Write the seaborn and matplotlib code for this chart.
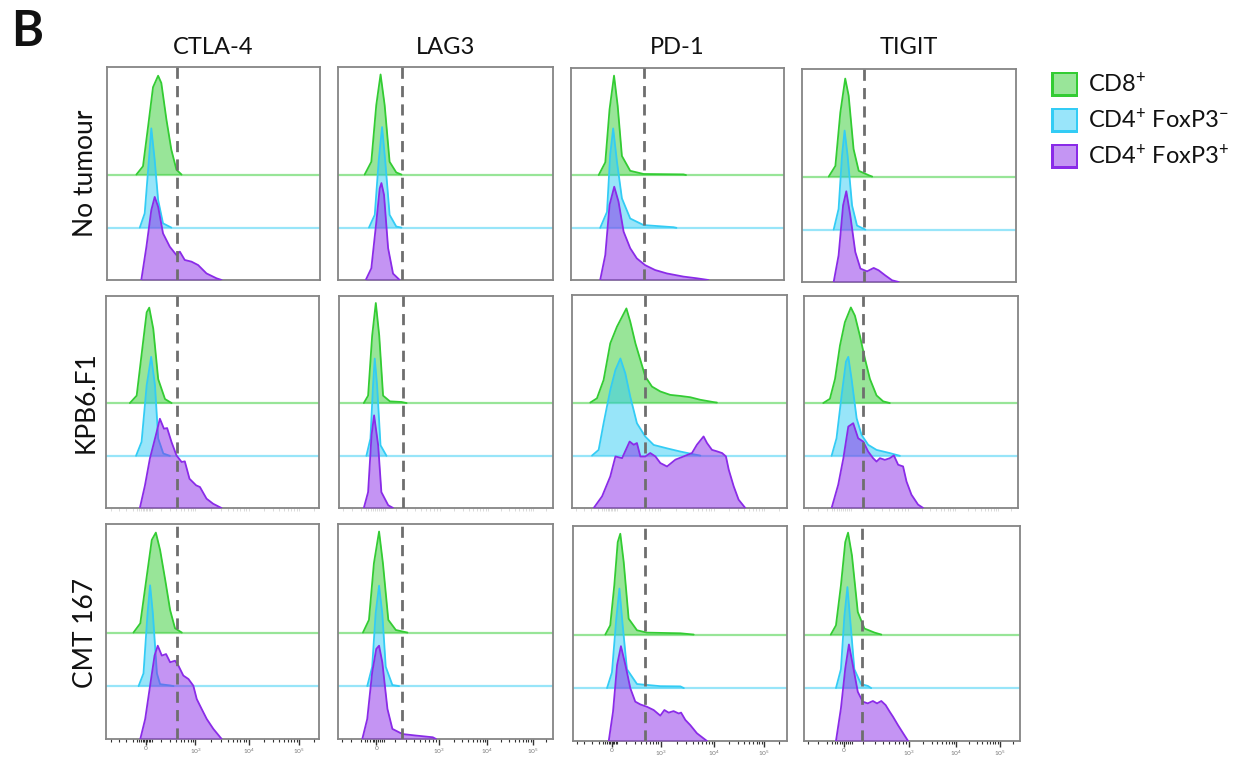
import numpy as np
import matplotlib
matplotlib.use("Agg")
import matplotlib.pyplot as plt
from matplotlib.patches import Rectangle
import seaborn as sns
import pandas as pd

# ---------------- data (x in FlowJo display channels 0-1000, h = normalised count, % of panel height)
MARKERS = ["CTLA-4", "LAG3", "PD-1", "TIGIT"]
CONDITIONS = ["No tumour", "KPB6.F1", "CMT 167"]
POPULATIONS = ["CD8$^{+}$", "CD4$^{+}$ FoxP3$^{-}$", "CD4$^{+}$ FoxP3$^{+}$"]

# axis tick channels for 0, 10^3, 10^4, 10^5 per marker (logicle display)
TICKS_CTLA4 = [187, 420, 670, 907]
TICKS_LAG3 = [178, 470, 695, 906]
TICKS_PD1 = [180, 410, 660, 894]
TICKS_TIGIT = [184, 486, 705, 906]
TICK_LABELS = ["0", "$10^3$", "$10^4$", "$10^5$"]

# positive gate (dashed line) per condition, per marker
GATE_NT = [329, 299, 344, 288]
GATE_KPB = [334, 297, 338, 277]
GATE_CMT = [335, 297, 335, 269]

# ---- No tumour
NT_CTLA4_CD8_X = [138, 169, 193, 216, 240, 255, 279, 302, 326, 350]
NT_CTLA4_CD8_H = [0, 3.9, 22.6, 41, 46.4, 43, 25.8, 11.7, 2.3, 0]
NT_CTLA4_CONV_X = [154, 177, 193, 208, 224, 240, 263, 302]
NT_CTLA4_CONV_H = [0, 6.7, 27, 46.6, 31.7, 13, 2, 0]
NT_CTLA4_TREG_X = [161, 185, 208, 224, 240, 263, 295, 326, 342, 365, 397, 428, 467, 514, 538]
NT_CTLA4_TREG_H = [0, 15.6, 32.8, 39, 34.4, 21.9, 15.6, 11.7, 13.3, 9.4, 8.6, 7, 3.1, 0.8, 0]

NT_LAG3_CD8_X = [124, 155, 178, 198, 217, 240, 271, 295]
NT_LAG3_CD8_H = [0, 6, 32.6, 47, 32.6, 6, 1, 0]
NT_LAG3_CONV_X = [144, 171, 189, 205, 220, 240, 271, 295]
NT_LAG3_CONV_H = [0, 6, 31, 47.2, 31, 6, 0.5, 0]
NT_LAG3_TREG_X = [129, 155, 178, 194, 202, 214, 233, 256, 287]
NT_LAG3_TREG_H = [0, 5.5, 27, 43, 45.5, 40, 15, 3, 0]

NT_PD1_CD8_X = [130, 161, 181, 202, 219, 239, 278, 341, 528, 540]
NT_PD1_CD8_H = [0, 6, 31, 46.9, 32.8, 9, 2, 0.5, 0.3, 0]
NT_PD1_CONV_X = [137, 169, 184, 198, 216, 239, 278, 341, 481, 495]
NT_PD1_CONV_H = [0, 7.5, 34.6, 46.9, 31, 13.9, 4.4, 1.3, 0.3, 0]
NT_PD1_TREG_X = [137, 161, 181, 203, 223, 247, 278, 309, 348, 395, 450, 528, 591, 645]
NT_PD1_TREG_H = [0, 11.8, 35.4, 44, 37, 22.8, 15, 10.2, 7, 4.7, 3.1, 1.6, 0.8, 0]

NT_TIGIT_CD8_X = [125, 156, 179, 202, 218, 241, 265, 312, 328]
NT_TIGIT_CD8_H = [0, 5, 30, 46, 38, 12.9, 2.7, 0.6, 0]
NT_TIGIT_CONV_X = [148, 171, 187, 199, 213, 234, 257, 296]
NT_TIGIT_CONV_H = [0, 9.7, 34.8, 46.5, 34.8, 11.3, 1.9, 0]
NT_TIGIT_TREG_X = [148, 171, 192, 207, 226, 249, 273, 304, 335, 358, 389, 421, 452]
NT_TIGIT_TREG_H = [0, 12.5, 36, 42.6, 31, 14.1, 6.3, 5, 6.6, 5.5, 3.1, 0.8, 0]

# ---- KPB6.F1
KPB_CTLA4_CD8_X = [112, 144, 172, 191, 203, 222, 245, 277, 308]
KPB_CTLA4_CD8_H = [0, 3.5, 27, 42.8, 45, 35, 11.3, 1.9, 0]
KPB_CTLA4_CONV_X = [141, 167, 191, 212, 230, 245, 269, 300]
KPB_CTLA4_CONV_H = [0, 6.6, 33.3, 46.7, 33.3, 8.2, 1.1, 0]
KPB_CTLA4_TREG_X = [159, 183, 206, 234, 253, 272, 287, 308, 331, 355, 370, 392, 423, 441, 472, 503, 542]
KPB_CTLA4_TREG_H = [0, 10.7, 23.3, 34.3, 42.1, 37.4, 37.7, 31, 24.8, 21.7, 22, 13.8, 10.7, 9.9, 4.4, 2, 0]

KPB_LAG3_CD8_X = [116, 136, 155, 172, 188, 206, 238, 292, 316]
KPB_LAG3_CD8_H = [0, 3.5, 31.8, 47.2, 31.8, 3.5, 0.8, 0.5, 0]
KPB_LAG3_CONV_X = [128, 147, 159, 167, 178, 194, 222]
KPB_LAG3_CONV_H = [0, 8.2, 33.3, 45.9, 33.3, 5, 0]
KPB_LAG3_TREG_X = [116, 136, 152, 164, 183, 198, 230, 253]
KPB_LAG3_TREG_H = [0, 7.5, 34.3, 43.7, 29.6, 7.5, 1.3, 0]

KPB_PD1_CD8_X = [85, 116, 147, 178, 209, 233, 253, 271, 295, 318, 341, 372, 411, 457, 504, 550, 597, 659, 674]
KPB_PD1_CD8_H = [0, 2, 10.6, 27.8, 35.6, 40.3, 44.2, 38, 27.8, 20, 12.2, 7.5, 5.2, 3.6, 3.1, 2.5, 1.3, 0.2, 0]
KPB_PD1_CONV_X = [93, 124, 147, 178, 202, 225, 248, 271, 302, 341, 380, 442, 504, 566, 597]
KPB_PD1_CONV_H = [0, 2.7, 15.2, 30.8, 40.2, 45.6, 38.6, 27.7, 15.2, 8.9, 5, 3.4, 1.9, 0.6, 0]
KPB_PD1_TREG_X = [101, 140, 178, 202, 233, 268, 287, 302, 318, 341, 364, 388, 411, 442, 481, 519,
                  558, 581, 612, 628, 651, 674, 698, 716, 729, 752, 775, 806]
KPB_PD1_TREG_H = [0, 5.5, 14.8, 24.2, 23.4, 31.2, 29.7, 30.5, 24.2, 24.2, 25.8, 24.2, 21.1, 19.5, 22.7, 24.2,
                  25.8, 29.7, 33.6, 30.5, 27.3, 26.6, 25.8, 24.2, 18, 10.2, 3.9, 0]

KPB_TIGIT_CD8_X = [90, 121, 145, 168, 191, 219, 238, 261, 285, 308, 339, 370, 401]
KPB_TIGIT_CD8_H = [0, 2, 11.4, 27.1, 38.1, 45.1, 41.2, 31.8, 20.8, 11.4, 3.6, 0.8, 0]
KPB_TIGIT_CONV_X = [129, 152, 176, 196, 207, 222, 246, 269, 300, 339, 401, 448]
KPB_TIGIT_CONV_H = [0, 8.3, 28.7, 44.4, 46.7, 36.5, 17.7, 9.9, 5.2, 2.8, 1.3, 0]
KPB_TIGIT_TREG_X = [129, 160, 184, 207, 230, 253, 277, 300, 323, 339, 355, 378, 401, 420, 440, 463, 479, 502, 533, 557]
KPB_TIGIT_TREG_H = [0, 11, 23.5, 38.4, 40, 32.9, 31.3, 26.6, 23.5, 21.9, 23.5, 22.7, 23.5, 24.8, 20.4, 19.6, 12.5, 6.3, 1.6, 0]

# ---- CMT 167
CMT_CTLA4_CD8_X = [129, 161, 189, 215, 234, 254, 278, 301, 324, 356]
CMT_CTLA4_CD8_H = [0, 4.3, 24.5, 43.1, 46.5, 38.4, 24.5, 10.5, 2, 0]
CMT_CTLA4_CONV_X = [153, 176, 195, 207, 220, 239, 254, 301, 317]
CMT_CTLA4_CONV_H = [0, 5.9, 33.8, 46.9, 33.8, 5.9, 0.9, 0.3, 0]
CMT_CTLA4_TREG_X = [161, 184, 207, 228, 243, 262, 282, 301, 324, 340, 363, 387, 410, 426, 449, 473, 504, 543]
CMT_CTLA4_TREG_H = [0, 9.3, 24.8, 38.8, 43.4, 38.8, 39.5, 35.7, 36.4, 34.1, 29.5, 27.9, 24.8, 18.6, 14, 9.3, 4.7, 0]

CMT_LAG3_CD8_X = [116, 144, 167, 191, 209, 234, 269, 300, 323]
CMT_LAG3_CD8_H = [0, 5.9, 32.2, 47, 32.2, 5.9, 1.2, 0.5, 0]
CMT_LAG3_CONV_X = [136, 159, 175, 191, 206, 222, 253, 284]
CMT_LAG3_CONV_H = [0, 9, 33.8, 46.7, 33.8, 9, 0.5, 0]
CMT_LAG3_TREG_X = [113, 136, 159, 178, 191, 206, 230, 253, 300, 363, 441, 456]
CMT_LAG3_TREG_H = [0, 9.3, 31, 41.9, 43.4, 35.7, 14, 4.7, 2.3, 1.6, 0.8, 0]

CMT_PD1_CD8_X = [151, 174, 193, 209, 221, 237, 260, 299, 346, 502, 564]
CMT_PD1_CD8_H = [0, 4.3, 22.9, 43, 46.9, 33.7, 7.4, 2, 0.9, 0.6, 0]
CMT_PD1_CONV_X = [159, 182, 202, 217, 231, 252, 299, 408, 502, 518]
CMT_PD1_CONV_H = [0, 7.3, 32, 46.3, 30.5, 8.8, 1.9, 0.9, 0.8, 0]
CMT_PD1_TREG_X = [167, 187, 206, 224, 245, 268, 291, 315, 346, 377, 408, 427, 447, 470, 494, 505, 525, 548, 579, 626]
CMT_PD1_TREG_H = [0, 13.6, 35.3, 44.1, 35.3, 24.5, 18.3, 17, 15.9, 14.4, 11.8, 14.4, 13.2, 13.9, 12.8, 13.2, 9.8, 7.4, 3.6, 0]

CMT_TIGIT_CD8_X = [124, 148, 171, 191, 204, 222, 249, 280, 327, 358]
CMT_TIGIT_CD8_H = [0, 4.3, 22.9, 43, 47.4, 36.8, 10.5, 2.8, 0.9, 0]
CMT_TIGIT_CONV_X = [148, 171, 187, 201, 215, 233, 264, 296, 311]
CMT_TIGIT_CONV_H = [0, 8.8, 33.5, 47, 30.5, 8.8, 1.9, 1, 0]
CMT_TIGIT_TREG_X = [148, 171, 191, 208, 226, 249, 272, 295, 319, 338, 358, 378, 397, 412, 435, 459, 482]
CMT_TIGIT_TREG_H = [0, 15.2, 33.7, 44.9, 35.3, 22.9, 18.3, 17.5, 18.6, 17.5, 18.6, 16.7, 13.6, 11.3, 7.4, 3.6, 0]

# ---------------- assemble
g = globals()
ROWKEYS = ["NT", "KPB", "CMT"]
COLKEYS = ["CTLA4", "LAG3", "PD1", "TIGIT"]
POPKEYS = ["CD8", "CONV", "TREG"]
GATES = [GATE_NT, GATE_KPB, GATE_CMT]
TICKS = [TICKS_CTLA4, TICKS_LAG3, TICKS_PD1, TICKS_TIGIT]

records = []
for r, rk in enumerate(ROWKEYS):
    for c, ck in enumerate(COLKEYS):
        for p, pk in enumerate(POPKEYS):
            xs = g[f"{rk}_{ck}_{pk}_X"]
            hs = g[f"{rk}_{ck}_{pk}_H"]
            for x, h in zip(xs, hs):
                records.append(dict(cond=CONDITIONS[r], marker=MARKERS[c], pop=pk, x=x, h=h))
df = pd.DataFrame(records)

# ---------------- style
sns.set_theme(style="white")
plt.rcParams["font.family"] = ["Lato", "DejaVu Sans"]
plt.rcParams["mathtext.fontset"] = "custom"
plt.rcParams["mathtext.rm"] = "Lato"
plt.rcParams["mathtext.it"] = "Lato:italic"
plt.rcParams["mathtext.bf"] = "Lato:bold"

LINE = {"CD8": "#33cc33", "CONV": "#33ccf5", "TREG": "#8a2be8"}
OFFSET = {"CD8": 49.5, "CONV": 24.6, "TREG": 0.0}
ZO = {"CD8": 2, "CONV": 3, "TREG": 4}

W, H = 1249, 758
fig = plt.figure(figsize=(W / 100, H / 100), dpi=100)

# panel boxes in pixels (left, top, right, bottom)
BOXES = [
    [(107, 67, 320, 280), (338, 67, 553, 280), (571, 68, 784, 280), (802, 69, 1016, 282)],
    [(106, 296, 319, 508), (339, 296, 553, 508), (572, 295, 787, 508), (804, 296, 1018, 508)],
    [(106, 524, 319, 739), (338, 524, 553, 739), (573, 526, 787, 741), (804, 526, 1020, 741)],
]

near_zero = [-0.85, -0.7, -0.55, -0.4, -0.25, -0.18, -0.14, -0.1, -0.06, -0.03, 0.03, 0.06, 0.09, 0.12]
logk = np.log10(np.arange(2, 10))

for r in range(3):
    for c in range(4):
        l, t, rr, b = BOXES[r][c]
        ax = fig.add_axes([l / W, 1 - b / H, (rr - l) / W, (b - t) / H])
        sub = df[(df.cond == CONDITIONS[r]) & (df.marker == MARKERS[c])]
        for pk in POPKEYS:
            d = sub[sub["pop"] == pk].copy()
            base = OFFSET[pk]
            d["y"] = base + d["h"]
            col = LINE[pk]
            if base > 0:
                ax.axhline(base, color=col, lw=1.6, alpha=0.5, zorder=ZO[pk] - 0.5)
            ax.fill_between(d["x"].values, base, d["y"].values, color=col, alpha=0.5, lw=0, zorder=ZO[pk])
            sns.lineplot(data=d, x="x", y="y", ax=ax, color=col, lw=1.3, sort=False,
                         estimator=None, zorder=ZO[pk] + 0.2)
        ax.axvline(GATES[r][c], color="#6e6e6e", lw=2.0, ls=(0, (4, 2.6)), zorder=6)
        ax.set_xlabel("")
        ax.set_ylabel("")
        ax.set_yticks([])
        for s in ax.spines.values():
            s.set_color("#858585")
            s.set_linewidth(1.3)
        tk = TICKS[c]
        gaps = np.diff(tk)
        minor = [tk[0] + f * gaps[0] for f in near_zero]
        minor += [tk[0] + v * gaps[0] for v in logk]
        minor += [tk[1] + v * gaps[1] for v in logk]
        minor += [tk[2] + v * gaps[2] for v in logk]
        minor += [tk[3] + v * gaps[2] for v in logk]
        minor = [m for m in minor if 2 < m < 998]
        if r == 2:
            ax.set_xticks(tk)
            ax.set_xticklabels(TICK_LABELS)
            ax.set_xticks(minor, minor=True)
            ax.tick_params(axis="x", which="major", direction="out", length=4, width=1.0,
                           color="#333333", labelsize=4.6, labelcolor="#777777", pad=1.2, bottom=True)
            ax.tick_params(axis="x", which="minor", direction="out", length=2.5, width=0.8,
                           color="#333333", bottom=True)
        elif r == 1:
            ax.set_xticks(tk)
            ax.set_xticklabels([])
            ax.set_xticks(minor, minor=True)
            ax.tick_params(axis="x", which="both", direction="out", length=2, width=0.6,
                           color="#d5d5d5", bottom=True)
        else:
            ax.set_xticks([])
        ax.set_xlim(0, 1000)
        ax.set_ylim(0, 100)

# column titles
for c in range(4):
    l, t, rr, b = BOXES[0][c]
    fig.text(((l + rr) / 2) / W, 1 - 48 / H, MARKERS[c], ha="center", va="center", fontsize=17, color="#111111")

# row labels
ROW_Y = [173, 402, 633]
for r in range(3):
    fig.text(86 / W, 1 - ROW_Y[r] / H, CONDITIONS[r], rotation=90, ha="center", va="center",
             fontsize=19, color="#111111")

fig.text(27 / W, 1 - 31 / H, "B", ha="center", va="center", fontsize=35, fontweight="bold", color="#111111")

# legend
LEG_Y = [84, 120, 156]
for i, pk in enumerate(POPKEYS):
    y = LEG_Y[i]
    fig.add_artist(Rectangle((1051 / W, 1 - (y + 12.5) / H), 27 / W, 25 / H, transform=fig.transFigure,
                             facecolor=LINE[pk], alpha=1, edgecolor="none"))
    fig.add_artist(Rectangle((1053.5 / W, 1 - (y + 10) / H), 22 / W, 20 / H, transform=fig.transFigure,
                             facecolor="white", alpha=0.5, edgecolor="none"))
    fig.text(1088 / W, 1 - y / H, POPULATIONS[i], ha="left", va="center", fontsize=17, color="#111111")

fig.savefig("out.png", dpi=100)
